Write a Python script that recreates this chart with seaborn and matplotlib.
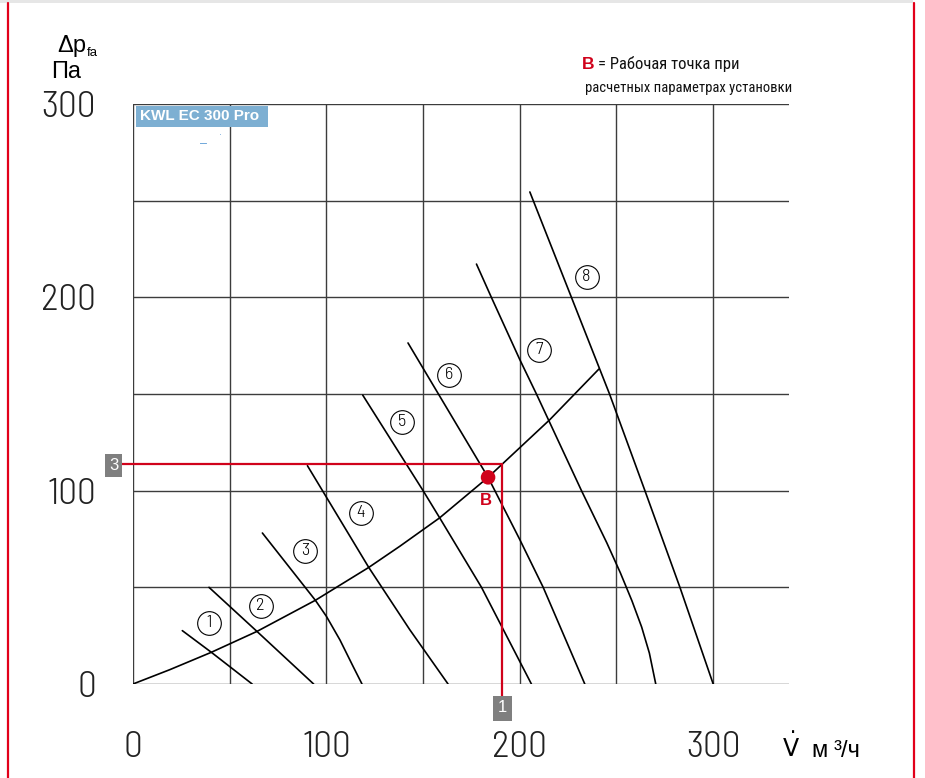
import matplotlib
matplotlib.use("Agg")
import matplotlib.pyplot as plt
import matplotlib.transforms as mtransforms
from matplotlib.patches import Rectangle
from matplotlib.lines import Line2D
import pandas as pd
import seaborn as sns

# ---- fan curves for speed steps 1..8: airflow (m³/h) and pressure (Pa) ----
curve_1_flow = [25.5, 40.5, 61.6]
curve_1_dp = [27.6, 16.4, 0.0]
curve_2_flow = [39.3, 64.1, 93.4]
curve_2_dp = [50.0, 27.2, 0.0]
curve_3_flow = [66.9, 94.3, 100.0, 107.0, 113.9, 118.4]
curve_3_dp = [78.1, 43.3, 35.0, 22.8, 8.9, 0.0]
curve_4_flow = [90.2, 121.9, 143.1, 162.9]
curve_4_dp = [112.9, 60.3, 28.1, 0.0]
curve_5_flow = [118.8, 150.0, 158.6, 180.2, 206.0]
curve_5_dp = [149.4, 100.0, 85.9, 50.0, 0.0]
curve_6_flow = [142.2, 183.6, 200.0, 212.1, 233.6]
curve_6_dp = [176.4, 106.9, 74.7, 50.0, 0.0]
curve_7_flow = [177.6, 185.3, 200.0, 208.6, 231.9, 245.0, 252.0, 258.0, 263.0, 267.0, 270.3]
curve_7_dp = [217.2, 200.0, 167.8, 150.0, 100.0, 73.0, 57.5, 43.0, 29.5, 16.0, 0.0]
curve_8_flow = [205.2, 226.7, 246.4, 264.7, 282.8, 300.0]
curve_8_dp = [254.5, 200.0, 150.0, 100.0, 50.0, 0.0]

# ---- system characteristic ----
system_flow = [0.0, 19.0, 40.5, 64.1, 94.3, 121.9, 137.9, 158.5, 183.6, 215.5, 240.9]
system_dp = [0.0, 7.4, 16.4, 27.2, 43.3, 60.3, 71.2, 85.9, 106.9, 136.7, 162.9]

# ---- operating point B and design values ----
point_b = (183.6, 106.9)
design_flow = 191.0
design_dp = 113.8

# ---- curve numbers: label positions ----
label_numbers = ["1", "2", "3", "4", "5", "6", "7", "8"]
label_flow = [39.5, 66.0, 88.9, 117.7, 139.1, 163.4, 210.1, 234.5]
label_dp = [31.5, 40.5, 68.8, 88.6, 135.6, 159.8, 172.7, 210.5]

# ---- axes ----
x_ticks = [0, 100, 200, 300]
y_ticks = [0, 100, 200, 300]
x_max = 339.2
y_max = 300

curves = {
    "1": (curve_1_flow, curve_1_dp), "2": (curve_2_flow, curve_2_dp),
    "3": (curve_3_flow, curve_3_dp), "4": (curve_4_flow, curve_4_dp),
    "5": (curve_5_flow, curve_5_dp), "6": (curve_6_flow, curve_6_dp),
    "7": (curve_7_flow, curve_7_dp), "8": (curve_8_flow, curve_8_dp),
}
rows = []
for name, (fl, dp) in curves.items():
    for i, (f, p) in enumerate(zip(fl, dp)):
        rows.append({"curve": name, "order": i, "flow": f, "dp": p})
fan_df = pd.DataFrame(rows)
sys_df = pd.DataFrame({"flow": system_flow, "dp": system_dp})

sns.set_style("white")
plt.rcParams["font.family"] = ["Liberation Sans", "DejaVu Sans"]

RED = "#D0021B"
FRAME_RED = "#E2001A"
GRID = "#3c3c3c"
BOX_GREY = "#7f7f7f"

W, H = 925, 778
fig = plt.figure(figsize=(W / 100, H / 100), dpi=100)
ax_l, ax_r, ax_t, ax_b = 133, 789, 104, 684
ax = fig.add_axes([ax_l / W, 1 - ax_b / H, (ax_r - ax_l) / W, (ax_b - ax_t) / H])

# page frame: grey strip on top, red rules left and right
fig.patches.append(Rectangle((0, 1 - 3 / H), 913 / W, 3 / H, transform=fig.transFigure,
                             facecolor="#e6e6e6", edgecolor="none"))
for xr in (8, 914):
    fig.lines.append(Line2D([xr / W, xr / W], [0, 1 - 3 / H], transform=fig.transFigure,
                            color=FRAME_RED, lw=1.6))

ax.set_xlim(0, x_max)
ax.set_ylim(0, y_max)
ax.set_xticks(x_ticks)
ax.set_yticks(y_ticks)
ax.set_xticks([50, 150, 250], minor=True)
ax.set_yticks([50, 150, 250], minor=True)
ax.grid(True, which="both", color=GRID, lw=1.0)
ax.set_axisbelow(True)
for s in ax.spines.values():
    s.set_visible(False)
ax.tick_params(which="major", length=8.6, width=1.0, color=GRID, direction="out")
ax.tick_params(which="minor", length=0)
ax.tick_params(axis="y", pad=18)
ax.tick_params(axis="x", pad=25.5)
tick_font = dict(family="Barlow Semi Condensed", weight=300, size=27, color="#222222")
ax.set_xticklabels([str(v) for v in x_ticks], **tick_font)
ax.set_yticklabels([str(v) for v in y_ticks], **tick_font)

# fan curves and system curve
sns.lineplot(data=fan_df, x="flow", y="dp", units="curve", estimator=None, sort=False,
             color="black", lw=1.2, ax=ax, legend=False)
sns.lineplot(data=sys_df, x="flow", y="dp", estimator=None, sort=False,
             color="black", lw=1.2, ax=ax, legend=False)
ax.set_xlabel("")
ax.set_ylabel("")

# curve numbers in circles
sns.scatterplot(x=label_flow, y=label_dp, s=290, facecolor="white", edgecolor="black",
                linewidth=0.8, ax=ax, zorder=4)
for n, fx, fy in zip(label_numbers, label_flow, label_dp):
    ax.text(fx, fy, n, ha="center", va="center", family="Barlow Semi Condensed",
            weight=300, size=13, color="black", zorder=5)

# design point guide lines
ax.axhline(design_dp, xmin=-11 / (ax_r - ax_l), xmax=design_flow / x_max,
           color=RED, lw=1.6, clip_on=False, zorder=3)
ax.axvline(design_flow, ymin=-13 / (ax_b - ax_t), ymax=design_dp / y_max,
           color=RED, lw=1.6, clip_on=False, zorder=3)

# grey value tags on the axes
def tag(x, y, text, transform, pad):
    ax.text(x, y, text, transform=transform, color="white", size=12, ha="center",
            va="center", family="Liberation Sans", clip_on=False, zorder=6,
            bbox=dict(boxstyle=f"square,pad={pad}", fc=BOX_GREY, ec="none"))

trans_y = mtransforms.blended_transform_factory(ax.transAxes, ax.transData)
tag(0, design_dp, "3", mtransforms.offset_copy(trans_y, fig=fig, x=-19.5, y=-1.5, units="dots"), 0.25)
trans_x = mtransforms.blended_transform_factory(ax.transData, ax.transAxes)
tag(design_flow, 0, "1", mtransforms.offset_copy(trans_x, fig=fig, x=0, y=-24, units="dots"), 0.3)

# operating point B
sns.scatterplot(x=[point_b[0]], y=[point_b[1]], s=110, color=RED, edgecolor="none", ax=ax, zorder=7)
ax.text(point_b[0] - 1, point_b[1] - 8, "B", color=RED, weight="bold", size=12,
        ha="center", va="top", zorder=7)

# model title box
ax.add_patch(Rectangle((3 / (ax_r - ax_l), 1 - 23 / (ax_b - ax_t)), 132 / (ax_r - ax_l), 21 / (ax_b - ax_t),
                       transform=ax.transAxes, facecolor="#7dafd2", edgecolor="none",
                       clip_on=False, zorder=5))
ax.text(7 / (ax_r - ax_l), 1 - 12.5 / (ax_b - ax_t), "KWL EC 300 Pro", transform=ax.transAxes,
        color="white", weight="bold", size=11, ha="left", va="center", zorder=6)
ax.text(70 / (ax_r - ax_l), 1 - 40 / (ax_b - ax_t), "–", transform=ax.transAxes,
        color="#5b9bd5", size=9, ha="center", va="center", zorder=6)
ax.text(87 / (ax_r - ax_l), 1 - 32 / (ax_b - ax_t), "·", transform=ax.transAxes,
        color="#5b9bd5", size=6, ha="center", va="center", zorder=6)

# axis titles
fig.text(57 / W, 1 - 52 / H, "Δp", size=17, ha="left", va="baseline", color="black")
fig.text(87 / W, 1 - 56 / H, "fa", size=9.5, ha="left", va="baseline", color="black")
fig.text(51 / W, 1 - 78 / H, "Па", size=17, ha="left", va="baseline", color="black")
fig.text(782 / W, 1 - 757 / H, r"$\dot{\mathrm{V}}$", size=17, ha="left", va="baseline", color="black")
fig.text(811 / W, 1 - 757 / H, "м", size=17, ha="left", va="baseline", color="black")
fig.text(834 / W, 1 - 757 / H, "³/ч", size=17, ha="left", va="baseline", color="black")

# key to the operating point
fig.text(582 / W, 1 - 69 / H, "B", color=RED, weight="bold", size=12.5, ha="left", va="baseline")
fig.text(598 / W, 1 - 69 / H, "= Рабочая точка при", family="Roboto Condensed", size=12,
         ha="left", va="baseline", color="#111111")
fig.text(585 / W, 1 - 92 / H, "расчетных параметрах установки", family="Roboto Condensed", size=10.5,
         ha="left", va="baseline", color="#111111")

fig.savefig("out.png", dpi=100)
